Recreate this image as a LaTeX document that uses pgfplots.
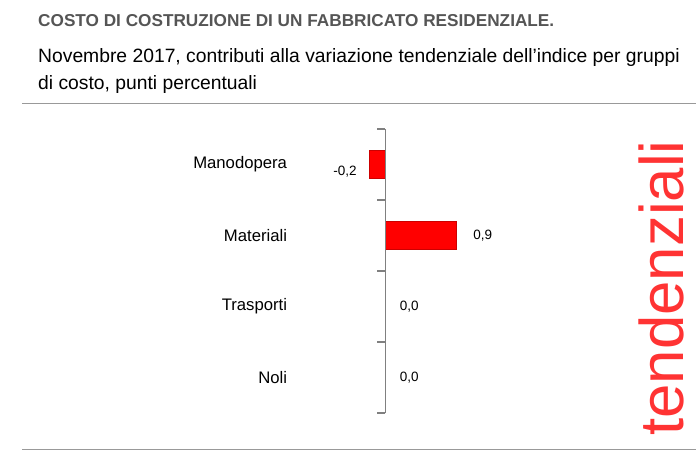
\documentclass[border=0pt]{standalone}
\usepackage{pgfplots}
\pgfplotsset{compat=1.18}
\usepackage{fontspec}
\setmainfont{Liberation Sans}
\definecolor{tgray}{HTML}{555555}
\definecolor{bred}{HTML}{FF0000}
\begin{document}
\begin{tikzpicture}[x=1pt,y=1pt]
\useasboundingbox (0,0) rectangle (696,457);
\node[anchor=base west,inner sep=0,text=tgray,font=\fontsize{17.2}{20}\selectfont\bfseries] at (38,430) {COSTO DI COSTRUZIONE DI UN FABBRICATO RESIDENZIALE.};
\node[anchor=base west,inner sep=0,font=\fontsize{19.3}{22}\selectfont] at (38,394) {Novembre 2017, contributi alla variazione tendenziale dell’indice per gruppi};
\node[anchor=base west,inner sep=0,font=\fontsize{19.3}{22}\selectfont] at (38,367) {di costo, punti percentuali};
\draw[gray!80,line width=1pt] (22,353) -- (696,353);
\draw[gray!80,line width=1pt] (22,7) -- (696,7);
\node[rotate=90,anchor=base,inner sep=0,text=bred!80] at (683,169) {\resizebox{295pt}{!}{tendenziali}};
\begin{axis}[at={(337.8,-61.8)},anchor=south west,scale only axis,
  width=237pt,height=284pt,xmin=-1.5,xmax=1.5,ymin=-0.5,ymax=3.5,y dir=reverse,
  axis lines=none,xbar,bar width=28pt,clip=false]
\addplot[fill=bred,draw=bred!80!black,line width=0.3pt] coordinates {(-0.2,0) (0.9,1) (0,2) (0,3)};
\draw[gray,line width=1.5pt] (axis cs:0,-0.5) -- (axis cs:0,3.5);
\pgfplotsinvokeforeach{-0.5,0.5,1.5,2.5,3.5}{\draw[gray,line width=1.5pt] (axis cs:0,#1) -- ++(-8pt,0pt);}
\node[anchor=east,font=\fontsize{16.7}{19}\selectfont] at (axis cs:-1.2,0) {Manodopera};
\node[anchor=east,font=\fontsize{16.7}{19}\selectfont] at (axis cs:-1.2,1) {Materiali};
\node[anchor=east,font=\fontsize{16.7}{19}\selectfont] at (axis cs:-1.2,2) {Trasporti};
\node[anchor=east,font=\fontsize{16.7}{19}\selectfont] at (axis cs:-1.2,3) {Noli};
\node[anchor=east,font=\fontsize{13.5}{15}\selectfont] at (axis cs:-0.32,0.1) {-0,2};
\node[anchor=west,font=\fontsize{13.5}{15}\selectfont] at (axis cs:1.07,1) {0,9};
\node[anchor=west,font=\fontsize{13.5}{15}\selectfont] at (axis cs:0.14,2) {0,0};
\node[anchor=west,font=\fontsize{13.5}{15}\selectfont] at (axis cs:0.14,3) {0,0};
\end{axis}
\end{tikzpicture}
\end{document}
